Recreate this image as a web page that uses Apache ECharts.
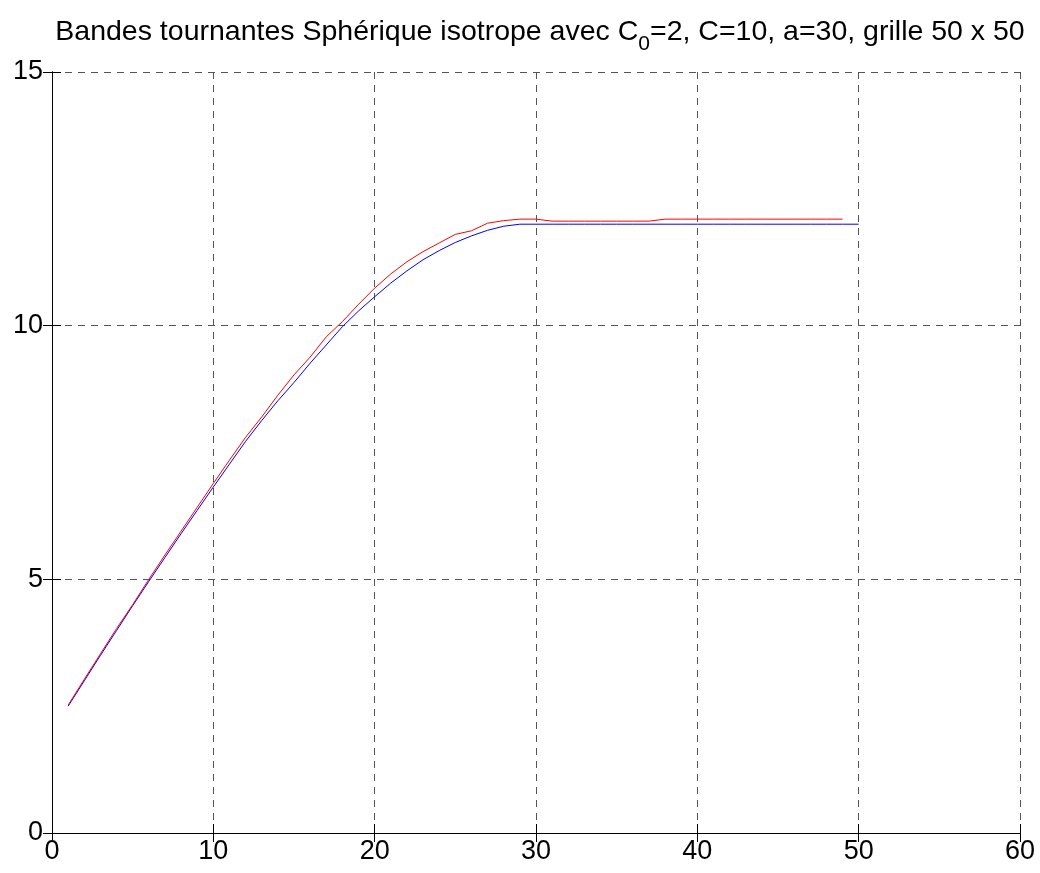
<!DOCTYPE html>
<html>
<head>
<meta charset="utf-8">
<script src="https://cdn.jsdelivr.net/npm/echarts@6/dist/echarts.min.js"></script>
<style>html,body{margin:0;padding:0;background:#fff}#c{width:1040px;height:873px}</style>
</head>
<body>
<div id="c"></div>
<script>
const titleText = 'Bandes tournantes Sphérique isotrope avec C{sub|0}=2, C=10, a=30, grille 50 x 50';
const xTicks = [0, 10, 20, 30, 40, 50, 60];
const yTicks = [0, 5, 10, 15];
const lagsBlue = [1,2,3,4,5,6,7,8,9,10,11,12,13,14,15,16,17,18,19,20,21,22,23,24,25,26,27,28,29,30,31,32,33,34,35,36,37,38,39,40,41,42,43,44,45,46,47,48,49,50];
const modelValues = [2.50,3.00,3.50,3.99,4.48,4.96,5.43,5.90,6.36,6.82,7.27,7.72,8.13,8.52,8.88,9.26,9.62,9.98,10.29,10.57,10.84,11.08,11.30,11.48,11.64,11.77,11.88,11.96,12.00,12.00,12.00,12.00,12.00,12.00,12.00,12.00,12.00,12.00,12.00,12.00,12.00,12.00,12.00,12.00,12.00,12.00,12.00,12.00,12.00,12.00];
const lagsRed = [1,2,3,4,5,6,7,8,9,10,11,12,13,14,15,16,17,18,19,20,21,22,23,24,25,26,27,28,29,30,31,32,33,34,35,36,37,38,39,40,41,42,43,44,45,46,47,48,49];
const simValues = [2.52,3.03,3.53,4.03,4.50,5.00,5.48,5.95,6.42,6.89,7.35,7.80,8.20,8.63,9.03,9.38,9.78,10.08,10.42,10.74,11.02,11.26,11.46,11.63,11.80,11.87,12.02,12.07,12.10,12.10,12.06,12.06,12.06,12.06,12.06,12.06,12.06,12.10,12.10,12.10,12.10,12.10,12.10,12.10,12.10,12.10,12.10,12.10,12.10];

const FONT = '"Liberation Sans", Arial, Helvetica, sans-serif';
const chart = echarts.init(document.getElementById('c'), null, {renderer: 'canvas'});
const gridDash = {show: true, lineStyle: {color: '#555', width: 1, type: [7, 6]}};
const lineAxis = {show: true, lineStyle: {color: '#000', width: 1}};
const tickIn = {show: true, inside: true, length: 9, lineStyle: {color: '#000', width: 1}};
chart.setOption({
  animation: false,
  backgroundColor: '#fff',
  title: {
    text: titleText,
    left: 535, top: 4, textAlign: 'center',
    textStyle: {
      fontFamily: FONT, fontSize: 28.5, fontWeight: 'normal', color: '#000', lineHeight: 28,
      rich: {sub: {fontFamily: FONT, fontSize: 21, color: '#000', lineHeight: 46, verticalAlign: 'bottom'}}
    }
  },
  grid: {left: 52, right: 20, top: 72, bottom: 40, containLabel: false},
  xAxis: [{
    type: 'value', min: xTicks[0], max: xTicks[xTicks.length-1], interval: 10,
    axisLine: lineAxis, axisTick: tickIn, splitLine: gridDash,
    axisLabel: {fontFamily: FONT, fontSize: 27, color: '#000', margin: 5}
  }, {
    type: 'value', position: 'top', min: xTicks[0], max: xTicks[xTicks.length-1], interval: 10,
    axisLine: lineAxis, axisTick: tickIn, splitLine: {show: false}, axisLabel: {show: false}
  }],
  yAxis: [{
    type: 'value', min: yTicks[0], max: yTicks[yTicks.length-1], interval: 5,
    axisLine: lineAxis, axisTick: tickIn, splitLine: gridDash,
    axisLabel: {fontFamily: FONT, fontSize: 27, color: '#000', margin: 9, padding: [0, 0, 6, 0]}
  }, {
    type: 'value', position: 'right', min: yTicks[0], max: yTicks[yTicks.length-1], interval: 5,
    axisLine: lineAxis, axisTick: tickIn, splitLine: {show: false}, axisLabel: {show: false}
  }],
  series: [{
    type: 'line', name: 'modele', data: lagsBlue.map((x, i) => [x, modelValues[i]]),
    showSymbol: false, lineStyle: {color: '#0000ff', width: 1}, itemStyle: {color: '#0000ff'}, z: 3
  }, {
    type: 'line', name: 'simulation', data: lagsRed.map((x, i) => [x, simValues[i]]),
    showSymbol: false, lineStyle: {color: '#ff0000', width: 1}, itemStyle: {color: '#ff0000'}, z: 4
  }]
});
</script>
</body>
</html>
